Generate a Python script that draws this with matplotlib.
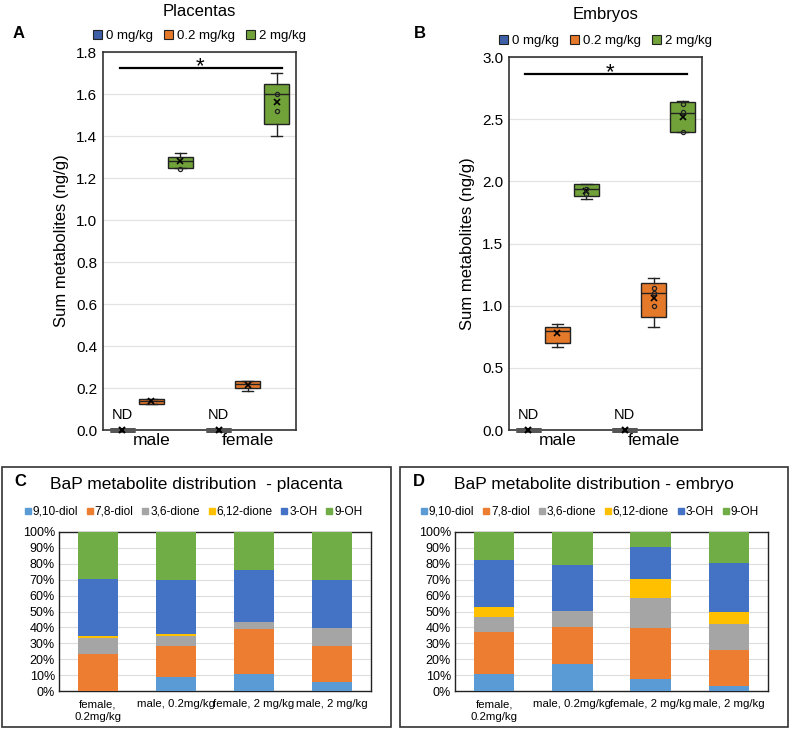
import matplotlib
matplotlib.use("Agg")
import matplotlib.pyplot as plt
from matplotlib.patches import Rectangle, Patch
from matplotlib.lines import Line2D
import numpy as np

plt.rcParams['font.family'] = ['Liberation Sans', 'DejaVu Sans']

# ---------------- data ----------------
doses = ["0 mg/kg", "0.2 mg/kg", "2 mg/kg"]
sexes = ["male", "female"]
dose_colors = ["#3F5FA8", "#E5792A", "#71A23A"]

# Panel A (placentas) box stats per sex per dose: q1, med, q3, whislo, whishi, mean
plac_q1 = [[0.0, 0.125, 1.25], [0.0, 0.200, 1.457]]
plac_med = [[0.0, 0.140, 1.28], [0.0, 0.220, 1.600]]
plac_q3 = [[0.0, 0.150, 1.30], [0.0, 0.235, 1.648]]
plac_lo = [[0.0, 0.125, 1.25], [0.0, 0.185, 1.400]]
plac_hi = [[0.0, 0.150, 1.32], [0.0, 0.235, 1.700]]
plac_mean = [[0.0, 0.140, 1.28], [0.0, 0.215, 1.560]]
plac_pts = [[[], [], [1.245]], [[], [], [1.60, 1.52]]]

# Panel B (embryos)
emb_q1 = [[0.0, 0.70, 1.88], [0.0, 0.91, 2.40]]
emb_med = [[0.0, 0.80, 1.935], [0.0, 1.10, 2.55]]
emb_q3 = [[0.0, 0.83, 1.976], [0.0, 1.18, 2.64]]
emb_lo = [[0.0, 0.67, 1.86], [0.0, 0.83, 2.40]]
emb_hi = [[0.0, 0.85, 1.98], [0.0, 1.22, 2.65]]
emb_mean = [[0.0, 0.78, 1.92], [0.0, 1.06, 2.52]]
emb_pts = [[[], [], [1.94, 1.90]], [[], [1.14, 1.10, 1.00], [2.62, 2.56, 2.40]]]

# Panels C, D
groups = ["female,\n0.2mg/kg", "male, 0.2mg/kg", "female, 2 mg/kg", "male, 2 mg/kg"]
metabolites = ["9,10-diol", "7,8-diol", "3,6-dione", "6,12-dione", "3-OH", "9-OH"]
met_colors = ["#5B9BD5", "#ED7D31", "#A5A5A5", "#FFC000", "#4472C4", "#70AD47"]
plac_d_9_10diol = [0.0, 8.8, 10.5, 5.9]
plac_d_7_8diol = [23.5, 19.3, 28.3, 22.4]
plac_d_3_6dione = [9.6, 6.7, 4.4, 11.3]
plac_d_6_12dione = [1.5, 0.8, 0.0, 0.0]
plac_d_3OH = [35.9, 34.4, 32.9, 30.4]
plac_d_9OH = [29.5, 30.0, 23.9, 30.0]
emb_d_9_10diol = [10.7, 16.8, 7.5, 3.1]
emb_d_7_8diol = [26.4, 23.7, 32.1, 22.7]
emb_d_3_6dione = [9.7, 9.8, 18.9, 16.3]
emb_d_6_12dione = [5.8, 0.0, 11.7, 7.4]
emb_d_3OH = [29.8, 28.9, 20.4, 31.2]
emb_d_9OH = [17.6, 20.8, 9.4, 19.3]

fig = plt.figure(figsize=(7.91, 7.29), dpi=100)


def box_panel(ax, q1, med, q3, lo, hi, mean, pts, ymax, ystep, sig_y, star_y, star_x, sig_x,
              title, letter, title_y, letter_x):
    offsets = [-0.3, 0.0, 0.3]
    width = 0.26
    for si in range(2):
        for di in range(3):
            pos = si + offsets[di]
            stats = [dict(q1=q1[si][di], med=med[si][di], q3=q3[si][di],
                          whislo=lo[si][di], whishi=hi[si][di], mean=mean[si][di], fliers=[])]
            if di == 0:
                art = ax.bxp(stats, positions=[pos], widths=width, showmeans=False, showcaps=False,
                             patch_artist=True,
                             boxprops=dict(facecolor="#666666", edgecolor="#555555", linewidth=3.5),
                             medianprops=dict(color="#555555", linewidth=3.5),
                             whiskerprops=dict(linewidth=0), manage_ticks=False, zorder=3)
                for key in art:
                    for a in art[key]:
                        a.set_clip_on(False)
                ax.plot([pos], [0.0], marker="x", color="black", markersize=5, mew=1.5, zorder=5, clip_on=False)
                ax.text(pos, ymax * 0.022, "ND", ha="center", va="bottom", fontsize=10.5)
            else:
                ax.bxp(stats, positions=[pos], widths=width, showmeans=False, patch_artist=True,
                       boxprops=dict(facecolor=dose_colors[di], edgecolor="#222222", linewidth=1.0),
                       medianprops=dict(color="#222222", linewidth=1.0),
                       whiskerprops=dict(color="#222222", linewidth=1.0),
                       capprops=dict(color="#222222", linewidth=1.0), capwidths=width * 0.45,
                       manage_ticks=False, zorder=3)
                ax.plot([pos], [mean[si][di]], marker="x", color="black", markersize=5, mew=1.2, zorder=5)
                if pts[si][di]:
                    ax.plot([pos] * len(pts[si][di]), pts[si][di], "o", mfc="none", mec="#222222",
                            markersize=3, mew=0.9, zorder=5)
    ax.set_xlim(-0.5, 1.5)
    ax.set_ylim(0, ymax)
    yt = np.arange(0, ymax + 1e-9, ystep)
    ax.set_yticks(yt)
    ax.set_yticklabels([f"{v:.1f}" for v in yt], fontsize=11)
    ax.set_xticks([0, 1])
    ax.set_xticklabels(sexes, fontsize=12.5)
    ax.tick_params(axis="x", length=0, pad=2)
    ax.tick_params(axis="y", length=0, pad=4)
    ax.yaxis.grid(True, color="#E3E3E3", linewidth=0.9)
    ax.set_axisbelow(True)
    for sp in ax.spines.values():
        sp.set_color("#333333")
        sp.set_linewidth(1.2)
    ax.set_ylabel("Sum metabolites (ng/g)", fontsize=12, labelpad=5)
    ax.plot(sig_x, [sig_y, sig_y], color="black", linewidth=1.6, zorder=4)
    ax.text(star_x, star_y, "*", ha="center", va="baseline", fontsize=16)
    handles = [Patch(facecolor=c, edgecolor="#222222", linewidth=0.8) for c in dose_colors]
    ax.legend(handles, doses, loc="lower center", bbox_to_anchor=(0.5, 1.005), ncol=3, frameon=False,
              fontsize=9.5, handlelength=0.7, handleheight=0.7, handletextpad=0.3, columnspacing=0.8,
              borderaxespad=0.2)
    pos_ax = ax.get_position()
    fig.text((pos_ax.x0 + pos_ax.x1) / 2, title_y, title, ha="center", va="center", fontsize=12)
    fig.text(letter_x, 1 - 33 / 729, letter, ha="left", va="center", fontsize=12, fontweight="bold")


axA = fig.add_axes([103 / 791, 1 - 430 / 729, (296 - 103) / 791, (430 - 52) / 729])
box_panel(axA, plac_q1, plac_med, plac_q3, plac_lo, plac_hi, plac_mean, plac_pts,
          1.8, 0.2, 1.724, 1.705, 0.505, [-0.32, 1.355], "Placentas", "A", 1 - 11 / 729, 13 / 791)

axB = fig.add_axes([509 / 791, 1 - 430 / 729, (702 - 509) / 791, (430 - 57) / 729])
box_panel(axB, emb_q1, emb_med, emb_q3, emb_lo, emb_hi, emb_mean, emb_pts,
          3.0, 0.5, 2.86, 2.83, 0.547, [-0.334, 1.345], "Embryos", "B", 1 - 14 / 729, 414 / 791)


def stacked_panel(ax, series, title, letter, frame_x0, frame_x1, letter_x):
    x = np.arange(len(groups))
    bottom = np.zeros(len(groups))
    for vals, name, col in zip(series, metabolites, met_colors):
        v = np.array(vals)
        ax.bar(x, v, bottom=bottom, width=0.52, color=col, label=name, zorder=3)
        bottom += v
    ax.set_xlim(-0.5, 3.5)
    ax.set_ylim(0, 100)
    ax.set_yticks(np.arange(0, 101, 10))
    ax.set_yticklabels([f"{v}%" for v in range(0, 101, 10)], fontsize=9)
    ax.set_xticks(x)
    ax.set_xticklabels(groups, fontsize=8.2, linespacing=1.3)
    ax.tick_params(axis="x", length=0, pad=6)
    ax.tick_params(axis="y", length=0, pad=3)
    ax.yaxis.grid(True, color="#DDDDDD", linewidth=0.8)
    ax.set_axisbelow(True)
    for sp in ax.spines.values():
        sp.set_color("#222222")
        sp.set_linewidth(1.0)
    handles = [Line2D([], [], marker="s", linestyle="none", color=c, markersize=4.5) for c in met_colors]
    ax.legend(handles, metabolites, loc="lower center", bbox_to_anchor=(0.43, 1.06), ncol=6, frameon=False,
              fontsize=8.6, handlelength=0.6, handletextpad=0.1, columnspacing=0.7, borderaxespad=0.0)
    fig.add_artist(Rectangle((frame_x0 / 791, 2 / 729), (frame_x1 - frame_x0) / 791, (262 - 2) / 729,
                             transform=fig.transFigure, fill=False, edgecolor="#333333", linewidth=1.2))
    fig.text((frame_x0 + frame_x1) / 2 / 791, 1 - 485 / 729, title, ha="center", va="center", fontsize=12.5)
    fig.text(letter_x / 791, 1 - 482 / 729, letter, ha="left", va="center", fontsize=12, fontweight="bold")


axC = fig.add_axes([59 / 791, 1 - 691 / 729, (371 - 59) / 791, (691 - 532) / 729])
stacked_panel(axC, [plac_d_9_10diol, plac_d_7_8diol, plac_d_3_6dione, plac_d_6_12dione, plac_d_3OH, plac_d_9OH],
              "BaP metabolite distribution  - placenta", "C", 2, 391, 14)

axD = fig.add_axes([455 / 791, 1 - 691 / 729, (768 - 455) / 791, (691 - 532) / 729])
stacked_panel(axD, [emb_d_9_10diol, emb_d_7_8diol, emb_d_3_6dione, emb_d_6_12dione, emb_d_3OH, emb_d_9OH],
              "BaP metabolite distribution - embryo", "D", 400, 788, 413)

fig.savefig("out.png", dpi=100)
